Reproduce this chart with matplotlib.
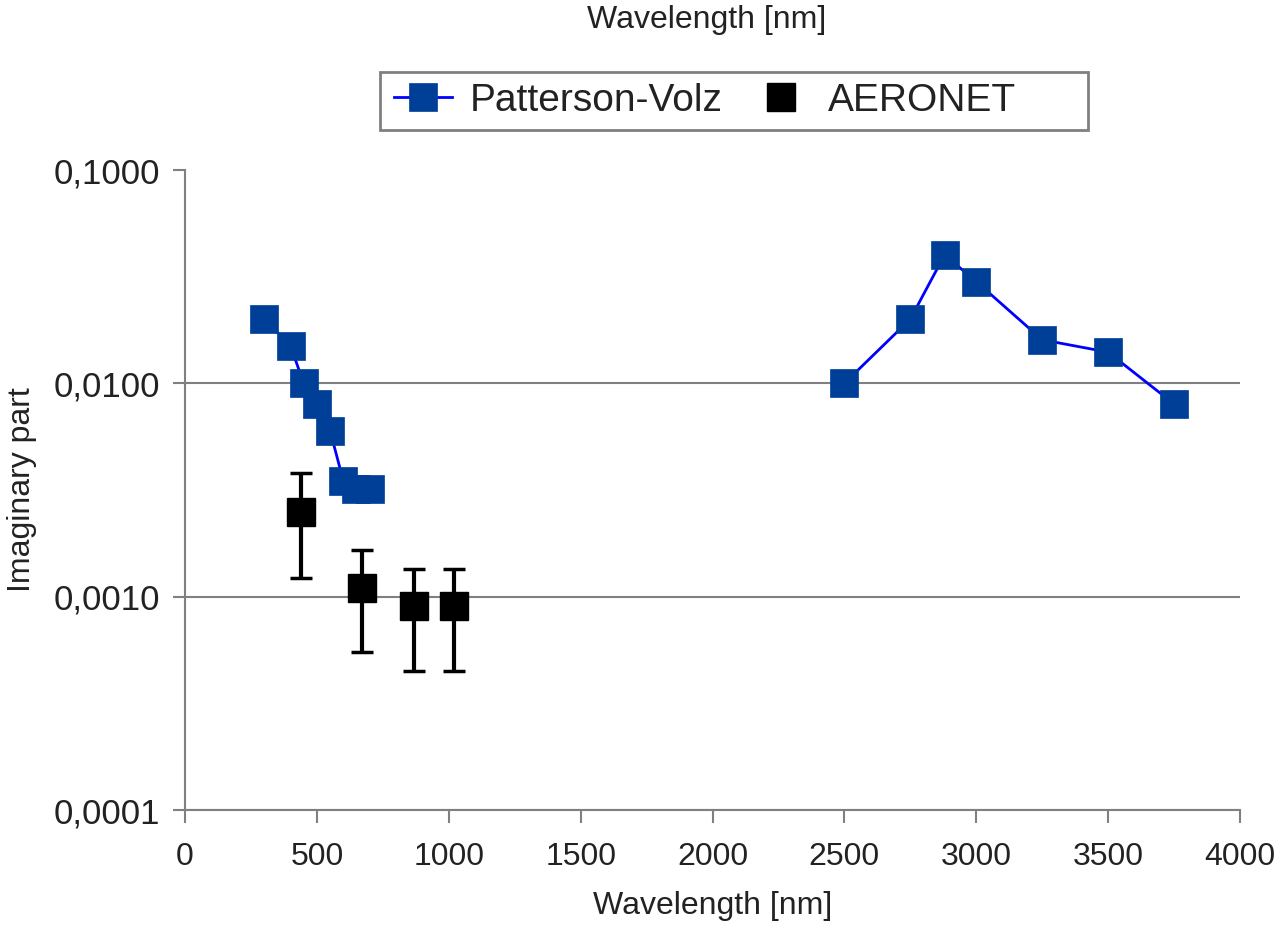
import matplotlib
matplotlib.use('Agg')
import matplotlib.pyplot as plt
from matplotlib.patches import Rectangle
from matplotlib.ticker import FuncFormatter, FixedLocator

# Patterson-Volz: visible part and infrared part
pv_wl = [300, 400, 450, 500, 550, 600, 650, 700,
         2500, 2750, 2880, 3000, 3250, 3500, 3750]
pv_k = [0.020, 0.015, 0.010, 0.008, 0.006, 0.0035, 0.0032, 0.0032,
        0.010, 0.020, 0.040, 0.030, 0.016, 0.014, 0.008]
gap = 8  # index where the infrared segment starts

# AERONET with error bars
ae_wl = [440, 670, 870, 1020]
ae_k = [0.0025, 0.0011, 0.0009, 0.0009]
ae_err = [0.00128, 0.00055, 0.00045, 0.00045]

plt.rcParams['font.family'] = ['Liberation Sans', 'DejaVu Sans']

fig = plt.figure(figsize=(12.83, 9.26), dpi=100)
ax = fig.add_axes([185 / 1283, 1 - 810 / 926, 1055 / 1283, 640 / 926])

pv_color = '#003f97'
line_kw = dict(color='#0000ff', lw=2, marker='s', ms=20,
               mfc=pv_color, mec=pv_color, mew=0.5)
ax.plot(pv_wl[:gap], pv_k[:gap], label='Patterson-Volz', **line_kw)
ax.plot(pv_wl[gap:], pv_k[gap:], **line_kw)

ax.errorbar(ae_wl, ae_k, yerr=ae_err, fmt='none', ecolor='black',
            elinewidth=3, capsize=8, capthick=2.5)
ax.plot(ae_wl, ae_k, 's', color='black', ms=20, label='AERONET')

ax.set_yscale('log')
ax.set_ylim(0.0001, 0.1)
ax.set_xlim(0, 4000)
ax.set_xticks(range(0, 4001, 500))
ax.yaxis.set_major_locator(FixedLocator([0.0001, 0.001, 0.01, 0.1]))
ax.yaxis.set_minor_locator(FixedLocator([]))
ax.yaxis.set_major_formatter(FuncFormatter(lambda v, _: f"{v:.4f}".replace('.', ',')))

ax.grid(axis='y', color='#808080', lw=1.5)
ax.yaxis.get_gridlines()[-1].set_visible(False)
ax.set_axisbelow(True)
for s in ['top', 'right']:
    ax.spines[s].set_visible(False)
for s in ['left', 'bottom']:
    ax.spines[s].set_color('#808080')
    ax.spines[s].set_linewidth(1.5)

ax.tick_params(axis='both', direction='out', length=9, width=1.5,
               color='#808080', labelcolor='#222222')
ax.tick_params(axis='x', pad=14, labelsize=23)
ax.tick_params(axis='y', pad=9, labelsize=25)

ax.set_xlabel('Wavelength [nm]', fontsize=23, color='#222222', labelpad=14)
ax.set_ylabel('Imaginary part', fontsize=23, color='#222222', labelpad=12)

# clipped label at the very top
fig.text(707 / 1283, 1 - 28 / 926, 'Wavelength [nm]', ha='center', va='baseline',
         fontsize=23, color='#222222')

# legend box drawn separately so it can be wider than its entries
fig.patches.append(Rectangle((380 / 1283, 1 - 130 / 926), 708 / 1283, 58 / 926,
                             transform=fig.transFigure, facecolor='white',
                             edgecolor='#808080', lw=2, zorder=2))
leg = fig.legend(loc='center left', ncol=2, bbox_to_anchor=(394 / 1283, 1 - 101 / 926),
                 frameon=False, fontsize=28, borderpad=0, borderaxespad=0,
                 handlelength=1.5, handletextpad=0.45, columnspacing=0.75)
leg.set_zorder(3)
for t in leg.get_texts():
    t.set_color('#222222')

fig.savefig('out.png', dpi=100)
